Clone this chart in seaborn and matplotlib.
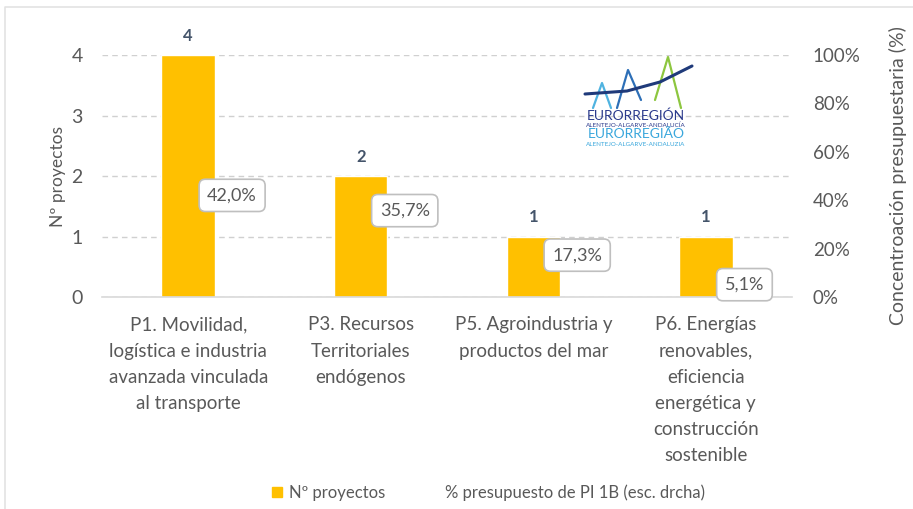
import matplotlib
matplotlib.use("Agg")
import matplotlib.pyplot as plt
import seaborn as sns
import pandas as pd
from matplotlib.patches import Patch
from matplotlib.lines import Line2D
from matplotlib.ticker import FuncFormatter

# ---- datos ----
categorias = [
    "P1. Movilidad,\nlogística e industria\navanzada vinculada\nal transporte",
    "P3. Recursos\nTerritoriales\nendógenos",
    "P5. Agroindustria y\nproductos del mar",
    "P6. Energías\nrenovables,\neficiencia\nenergética y\nconstrucción\nsostenible",
]
n_proyectos = [4, 2, 1, 1]
pct_presupuesto = [0.420, 0.357, 0.173, 0.051]

df = pd.DataFrame({"categoria": categorias, "n": n_proyectos, "pct": pct_presupuesto})

GRIS = "#595959"
AMARILLO = "#FFC000"

sns.set_style("white")
plt.rcParams["font.family"] = ["Lato", "DejaVu Sans"]

fig = plt.figure(figsize=(9.13, 5.09), dpi=100)
ax = fig.add_axes([0.1117, 0.4165, 0.7558, 0.4754])

sns.barplot(data=df, x="categoria", y="n", color=AMARILLO, width=0.31,
            saturation=1, ax=ax)
ax.set_xlim(-0.5, 3.5)
ax.set_ylim(0, 4)
ax.set_yticks([0, 1, 2, 3, 4])
ax.grid(axis="y", color="#D0D0D0", linestyle=(0, (4, 3)), linewidth=1)
ax.set_axisbelow(True)
for s in ["top", "right", "left"]:
    ax.spines[s].set_visible(False)
ax.spines["bottom"].set_color("#D9D9D9")
ax.spines["bottom"].set_linewidth(1.2)
ax.tick_params(axis="y", length=0, pad=14, labelsize=14, labelcolor=GRIS)
ax.tick_params(axis="x", length=0, pad=14, labelsize=13.5, labelcolor=GRIS)
for lab in ax.get_xticklabels():
    lab.set_linespacing(1.65)
ax.set_xlabel("")
ax.set_ylabel("Nº proyectos", fontsize=12.5, color=GRIS, labelpad=4)

# etiquetas de número de proyectos
for i, v in enumerate(n_proyectos):
    ax.annotate(str(v), xy=(i, v), xytext=(0, 8), textcoords="offset points",
                ha="center", va="bottom", fontsize=12, fontweight="bold",
                color="#44546A")

# eje derecho: % presupuesto
ax2 = ax.twinx()
ax2.set_ylim(0, 1)
ax2.set_yticks([0, 0.2, 0.4, 0.6, 0.8, 1.0])
ax2.yaxis.set_major_formatter(FuncFormatter(lambda v, p: f"{v * 100:.0f}%"))
ax2.tick_params(axis="y", length=0, pad=15, labelsize=13.5, labelcolor=GRIS)
for s in ax2.spines.values():
    s.set_visible(False)
ax2.set_ylabel("Concentroación presupuestaria (%)", fontsize=14, color=GRIS,
               labelpad=20)
sns.lineplot(x=list(range(len(pct_presupuesto))), y=pct_presupuesto, ax=ax2,
             alpha=0, legend=False)
ax2.set_xlim(-0.5, 3.5)

for i, p in enumerate(pct_presupuesto):
    ax2.annotate(f"{p * 100:.1f}%".replace(".", ","), xy=(i, p), xytext=(19, 0),
                 textcoords="offset pixels", ha="left", va="center",
                 fontsize=13, color=GRIS,
                 bbox=dict(boxstyle="round,pad=0.45,rounding_size=0.35",
                           fc="white", ec="#BFBFBF", lw=1.2))

# leyenda
handles = [Patch(color=AMARILLO), Line2D([], [], color="none")]
fig.legend(handles, ["Nº proyectos", "% presupuesto de PI 1B (esc. drcha)"],
           loc="center", bbox_to_anchor=(0.535, 0.032), ncol=2, frameon=False,
           fontsize=12, labelcolor=GRIS, handlelength=0.6, handleheight=0.6,
           handletextpad=0.4, columnspacing=2.6)

# logo Eurorregión (aprox.)
def fx(px):
    return px / 913

def fy(py):
    return 1 - py / 509

for (pxs, pys, col) in [([593, 602, 611], [108, 83, 108], "#4FB3E0"),
                        ([617, 628, 641], [108, 70, 100], "#2D6FB7"),
                        ([655, 668, 681], [100, 57, 108], "#8DC63F")]:
    fig.add_artist(Line2D([fx(v) for v in pxs], [fy(v) for v in pys],
                          color=col, lw=1.6))
fig.add_artist(Line2D([fx(585), fx(627), fx(660), fx(692)],
                      [fy(94), fy(91), fy(82), fy(66)], color="#1F3A7A", lw=2.2))
fig.text(fx(636), fy(116), "EURORREGIÓN", ha="center", va="center",
         fontsize=10, color="#2B3A8C")
fig.text(fx(636), fy(125), "ALENTEJO-ALGARVE-ANDALUCÍA", ha="center",
         va="center", fontsize=4.5, color="#2B3A8C")
fig.text(fx(636), fy(134), "EURORREGIÃO", ha="center", va="center",
         fontsize=10, color="#3AA7DC")
fig.text(fx(636), fy(144), "ALENTEJO-ALGARVE-ANDALUZIA", ha="center",
         va="center", fontsize=4.5, color="#3AA7DC")

# marco
fig.add_artist(Line2D([fx(5), fx(5), 1], [0, fy(7), fy(7)], color="#E3E3E3",
                      lw=1.2))

fig.savefig("out.png", dpi=100, facecolor="white")
